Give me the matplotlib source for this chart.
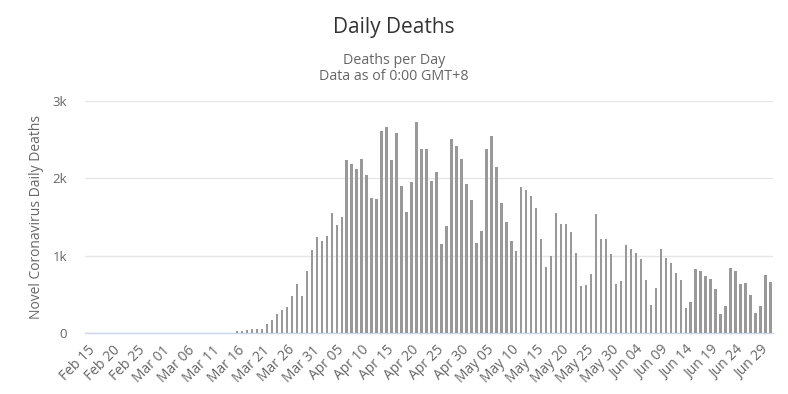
import matplotlib
matplotlib.use("Agg")
import matplotlib.pyplot as plt
import numpy as np

# Daily deaths, Feb 15 .. Jul 1 (one value per day)
feb_deaths = [0, 0, 0, 0, 0, 0, 0, 0, 0, 0, 0, 0, 0, 0, 1]  # Feb 15 - Feb 29
mar_deaths = [1, 2, 1, 2, 1, 1, 2, 2, 1, 2, 2, 2, 3, 3, 3,   # Mar 1 - 15
              20, 25, 45, 50, 50, 50, 116, 168, 245, 293, 336, 478, 633, 478, 801, 1072]  # Mar 16 - 31
apr_deaths = [1244, 1188, 1257, 1555, 1400, 1499, 2235, 2183, 2127, 2252,
              2037, 1748, 1731, 2614, 2661, 2235, 2580, 1899, 1568, 1951,
              2722, 2377, 2377, 1968, 2080, 1146, 1382, 2506, 2420, 2252]
may_deaths = [1925, 1714, 1159, 1314, 2377, 2549, 2153, 1684, 1430, 1188,
              1055, 1886, 1848, 1770, 1615, 1214, 857, 999, 1555, 1412,
              1412, 1305, 1030, 607, 620, 766, 1537, 1214, 1214, 1021, 637]
jun_deaths = [672, 1133, 1085, 1034, 956, 685, 362, 577, 1085, 969,
              904, 775, 685, 323, 405, 827, 801, 732, 702, 564,
              245, 349, 844, 801, 637, 650, 487, 263, 349, 749]
jul_deaths = [659]

deaths = feb_deaths + mar_deaths + apr_deaths + may_deaths + jun_deaths + jul_deaths

tick_labels = ["Feb 15", "Feb 20", "Feb 25", "Mar 01", "Mar 06", "Mar 11", "Mar 16",
               "Mar 21", "Mar 26", "Mar 31", "Apr 05", "Apr 10", "Apr 15", "Apr 20",
               "Apr 25", "Apr 30", "May 05", "May 10", "May 15", "May 20", "May 25",
               "May 30", "Jun 04", "Jun 09", "Jun 14", "Jun 19", "Jun 24", "Jun 29"]
y_ticks = [0, 1000, 2000, 3000]
y_tick_labels = ["0", "1k", "2k", "3k"]

plt.rcParams['font.family'] = ['Open Sans', 'DejaVu Sans']

W, H = 788, 394
fig = plt.figure(figsize=(W / 100, H / 100), dpi=100)
left, right, top, bottom = 85, 773, 101, 333
ax = fig.add_axes([left / W, 1 - bottom / H, (right - left) / W, (bottom - top) / H])

x = np.arange(len(deaths))
ax.bar(x, deaths, width=0.5, color="#999999", zorder=3)

ax.set_xlim(-0.5, len(deaths) - 0.5)
ax.set_ylim(0, 3000)
ax.set_yticks(y_ticks)
ax.set_yticklabels(y_tick_labels)
ax.grid(axis="y", color="#e6e6e6", linewidth=1, zorder=0)
ax.tick_params(axis="y", length=0, pad=13, labelsize=9.5, labelcolor="#666666")

ax.set_xticks(np.arange(0, len(deaths), 5)[:len(tick_labels)])
ax.set_xticklabels(tick_labels, rotation=45, ha="right", va="top",
                   rotation_mode="anchor")
ax.tick_params(axis="x", length=0, pad=7, labelsize=10, labelcolor="#666666")

for s in ["top", "right", "left"]:
    ax.spines[s].set_visible(False)
ax.spines["bottom"].set_color("#ccd6eb")
ax.spines["bottom"].set_linewidth(1)

ax.set_ylabel("Novel Coronavirus Daily Deaths", fontsize=10, color="#666666", labelpad=6)

fig.text(0.5, 1 - 27 / H, "Daily Deaths", ha="center", va="center",
         fontsize=15, color="#333333")
fig.text(0.5, 1 - 60 / H, "Deaths per Day", ha="center", va="center",
         fontsize=10.3, color="#666666")
fig.text(0.5, 1 - 77 / H, "Data as of 0:00 GMT+8", ha="center", va="center",
         fontsize=10.3, color="#666666")

fig.savefig("out.png", dpi=100)
